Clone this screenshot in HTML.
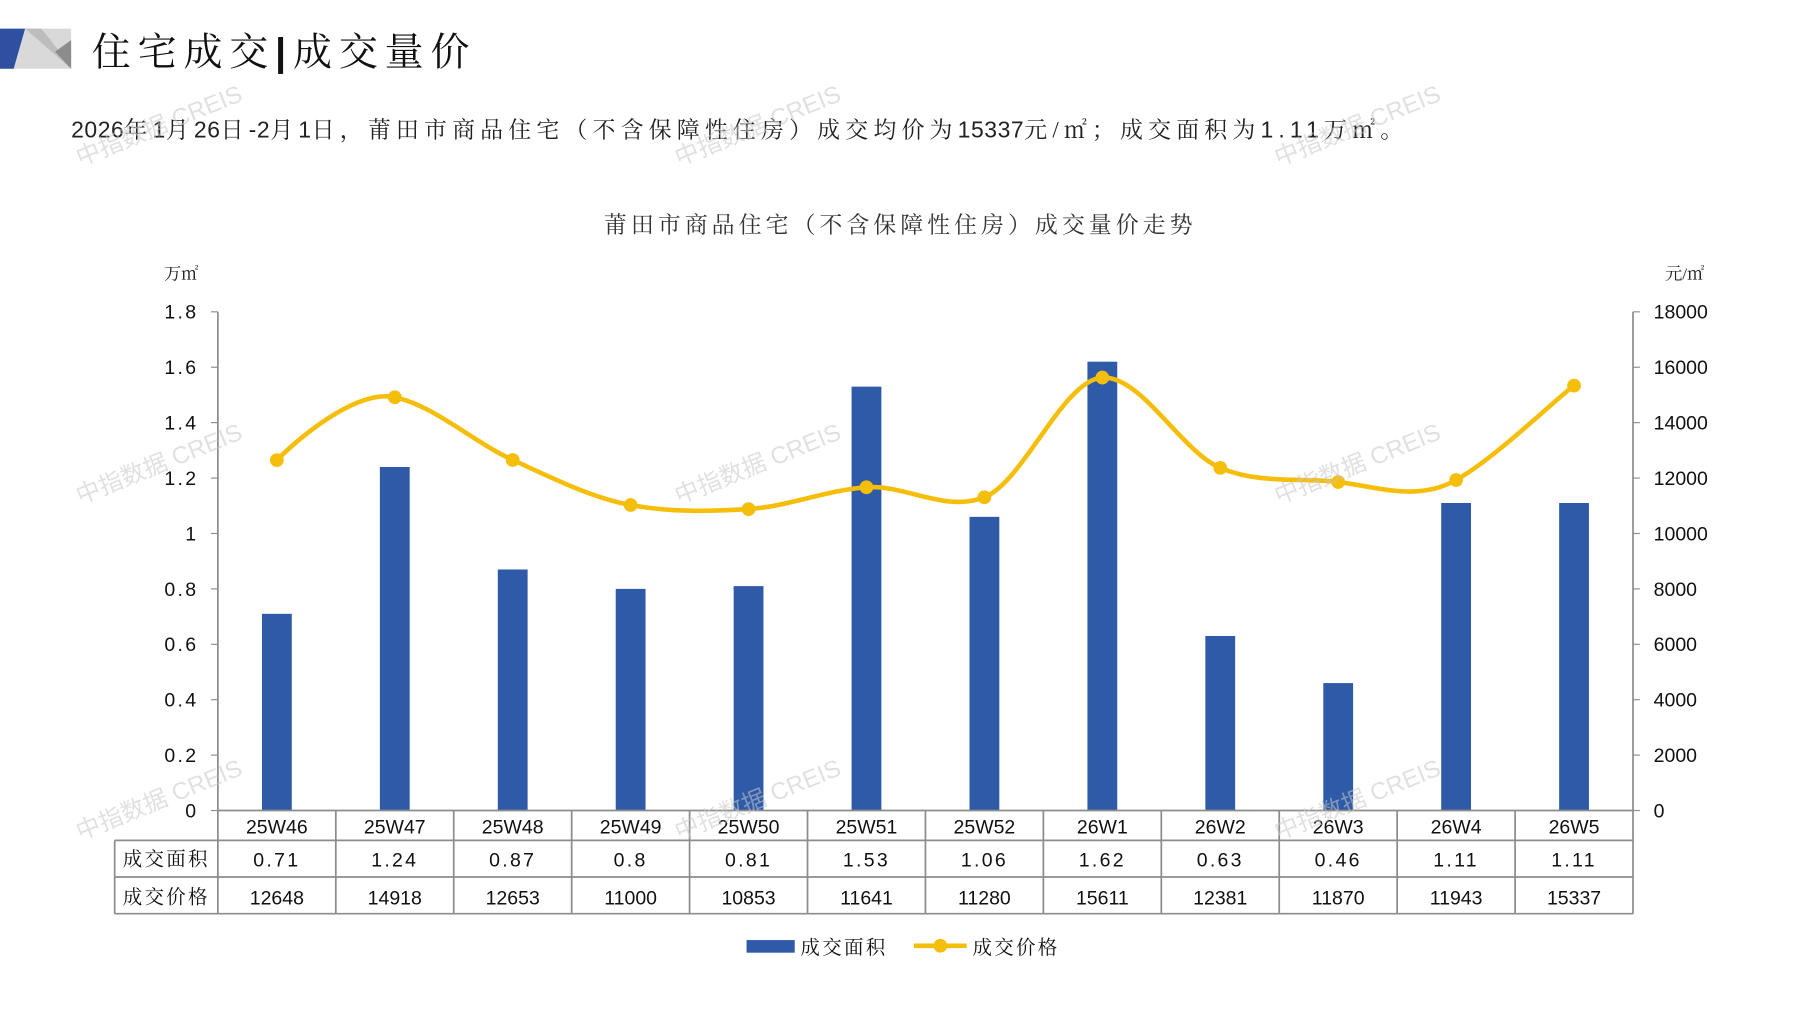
<!DOCTYPE html>
<html><head><meta charset="utf-8">
<style>
html,body{margin:0;padding:0;background:#fff;}
svg{display:block;}
text{font-family:"Liberation Sans","Noto Sans CJK SC",sans-serif;}
.s{font-family:"Liberation Serif","Noto Serif CJK SC",serif;}
.wm{font-family:"Liberation Sans","Noto Sans CJK SC",sans-serif;fill:#c8c8c8;opacity:.55;font-size:21px;}
</style></head><body>
<svg width="1797" height="1010" viewBox="0 0 1567 881" preserveAspectRatio="none" xmlns="http://www.w3.org/2000/svg">
<polygon points="0,25 22,25 12,60 0,60" fill="#2f4fa0"/>
<polygon points="22,25 62,25 62,60 12,60" fill="#d9d9d9"/>
<polygon points="22,25 62,60 62,35 52,45 36,25" fill="#bdbdbd"/>
<polygon points="48,45 62,35 62,60" fill="#8c8c8c"/>
<text x="80" y="57" class="s" font-size="34" fill="#111" letter-spacing="6">住宅成交<tspan font-family="Liberation Sans" font-weight="bold">|</tspan>成交量价</text>
<text x="62" y="120" class="s" font-size="20" fill="#222" letter-spacing="4.5"><tspan font-family="Liberation Sans" letter-spacing="0.5">2026</tspan>年<tspan font-family="Liberation Sans" letter-spacing="0.5">1</tspan>月<tspan font-family="Liberation Sans" letter-spacing="0.5">26</tspan>日<tspan font-family="Liberation Sans" letter-spacing="0.5">-2</tspan>月<tspan font-family="Liberation Sans" letter-spacing="0.5">1</tspan>日，莆田市商品住宅（不含保障性住房）成交均价为<tspan font-family="Liberation Sans" letter-spacing="0.5">15337</tspan>元/㎡；成交面积为<tspan font-family="Liberation Sans">1.11</tspan>万㎡。</text>
<text x="785" y="203" class="s" font-size="20" fill="#333" text-anchor="middle" letter-spacing="3.5">莆田市商品住宅（不含保障性住房）成交量价走势</text>
<text x="143" y="244" class="s" font-size="15" fill="#222">万㎡</text>
<text x="1452" y="244" class="s" font-size="15" fill="#222">元/㎡</text>
<g>
<line x1="190" y1="272" x2="190" y2="797" stroke="#8c8c8c" stroke-width="1.5"/><line x1="1424" y1="272" x2="1424" y2="797" stroke="#8c8c8c" stroke-width="1.5"/><line x1="184" y1="707" x2="190" y2="707" stroke="#8c8c8c"/><line x1="1424" y1="707" x2="1430" y2="707" stroke="#8c8c8c"/><text x="173" y="713" font-size="17" text-anchor="end" fill="#111" letter-spacing="2">0</text><text x="1442" y="713" font-size="17" fill="#111">0</text><line x1="184" y1="658.6666666666666" x2="190" y2="658.6666666666666" stroke="#8c8c8c"/><line x1="1424" y1="658.6666666666666" x2="1430" y2="658.6666666666666" stroke="#8c8c8c"/><text x="173" y="664.6666666666666" font-size="17" text-anchor="end" fill="#111" letter-spacing="2">0.2</text><text x="1442" y="664.6666666666666" font-size="17" fill="#111">2000</text><line x1="184" y1="610.3333333333334" x2="190" y2="610.3333333333334" stroke="#8c8c8c"/><line x1="1424" y1="610.3333333333334" x2="1430" y2="610.3333333333334" stroke="#8c8c8c"/><text x="173" y="616.3333333333334" font-size="17" text-anchor="end" fill="#111" letter-spacing="2">0.4</text><text x="1442" y="616.3333333333334" font-size="17" fill="#111">4000</text><line x1="184" y1="562" x2="190" y2="562" stroke="#8c8c8c"/><line x1="1424" y1="562" x2="1430" y2="562" stroke="#8c8c8c"/><text x="173" y="568" font-size="17" text-anchor="end" fill="#111" letter-spacing="2">0.6</text><text x="1442" y="568" font-size="17" fill="#111">6000</text><line x1="184" y1="513.6666666666666" x2="190" y2="513.6666666666666" stroke="#8c8c8c"/><line x1="1424" y1="513.6666666666666" x2="1430" y2="513.6666666666666" stroke="#8c8c8c"/><text x="173" y="519.6666666666666" font-size="17" text-anchor="end" fill="#111" letter-spacing="2">0.8</text><text x="1442" y="519.6666666666666" font-size="17" fill="#111">8000</text><line x1="184" y1="465.33333333333337" x2="190" y2="465.33333333333337" stroke="#8c8c8c"/><line x1="1424" y1="465.33333333333337" x2="1430" y2="465.33333333333337" stroke="#8c8c8c"/><text x="173" y="471.33333333333337" font-size="17" text-anchor="end" fill="#111" letter-spacing="2">1</text><text x="1442" y="471.33333333333337" font-size="17" fill="#111">10000</text><line x1="184" y1="417" x2="190" y2="417" stroke="#8c8c8c"/><line x1="1424" y1="417" x2="1430" y2="417" stroke="#8c8c8c"/><text x="173" y="423" font-size="17" text-anchor="end" fill="#111" letter-spacing="2">1.2</text><text x="1442" y="423" font-size="17" fill="#111">12000</text><line x1="184" y1="368.66666666666663" x2="190" y2="368.66666666666663" stroke="#8c8c8c"/><line x1="1424" y1="368.66666666666663" x2="1430" y2="368.66666666666663" stroke="#8c8c8c"/><text x="173" y="374.66666666666663" font-size="17" text-anchor="end" fill="#111" letter-spacing="2">1.4</text><text x="1442" y="374.66666666666663" font-size="17" fill="#111">14000</text><line x1="184" y1="320.33333333333337" x2="190" y2="320.33333333333337" stroke="#8c8c8c"/><line x1="1424" y1="320.33333333333337" x2="1430" y2="320.33333333333337" stroke="#8c8c8c"/><text x="173" y="326.33333333333337" font-size="17" text-anchor="end" fill="#111" letter-spacing="2">1.6</text><text x="1442" y="326.33333333333337" font-size="17" fill="#111">16000</text><line x1="184" y1="272" x2="190" y2="272" stroke="#8c8c8c"/><line x1="1424" y1="272" x2="1430" y2="272" stroke="#8c8c8c"/><text x="173" y="278" font-size="17" text-anchor="end" fill="#111" letter-spacing="2">1.8</text><text x="1442" y="278" font-size="17" fill="#111">18000</text>
</g>
<g fill="#2e5aa8">
<rect x="228.42" y="535.42" width="26" height="171.58"/>
<rect x="331.25" y="407.33" width="26" height="299.67"/>
<rect x="434.08" y="496.75" width="26" height="210.25"/>
<rect x="536.92" y="513.67" width="26" height="193.33"/>
<rect x="639.75" y="511.25" width="26" height="195.75"/>
<rect x="742.58" y="337.25" width="26" height="369.75"/>
<rect x="845.42" y="450.83" width="26" height="256.17"/>
<rect x="948.25" y="315.50" width="26" height="391.50"/>
<rect x="1051.08" y="554.75" width="26" height="152.25"/>
<rect x="1153.92" y="595.83" width="26" height="111.17"/>
<rect x="1256.75" y="438.75" width="26" height="268.25"/>
<rect x="1359.58" y="438.75" width="26" height="268.25"/>
</g>
<g font-size="17" text-anchor="middle" fill="#111">
<text x="241.42" y="727">25W46</text><text x="344.25" y="727">25W47</text><text x="447.08" y="727">25W48</text><text x="549.92" y="727">25W49</text><text x="652.75" y="727">25W50</text><text x="755.58" y="727">25W51</text><text x="858.42" y="727">25W52</text><text x="961.25" y="727">26W1</text><text x="1064.08" y="727">26W2</text><text x="1166.92" y="727">26W3</text><text x="1269.75" y="727">26W4</text><text x="1372.58" y="727">26W5</text>
<g letter-spacing="2"><text x="241.42" y="756">0.71</text><text x="344.25" y="756">1.24</text><text x="447.08" y="756">0.87</text><text x="549.92" y="756">0.8</text><text x="652.75" y="756">0.81</text><text x="755.58" y="756">1.53</text><text x="858.42" y="756">1.06</text><text x="961.25" y="756">1.62</text><text x="1064.08" y="756">0.63</text><text x="1166.92" y="756">0.46</text><text x="1269.75" y="756">1.11</text><text x="1372.58" y="756">1.11</text></g>
<text x="241.42" y="789">12648</text><text x="344.25" y="789">14918</text><text x="447.08" y="789">12653</text><text x="549.92" y="789">11000</text><text x="652.75" y="789">10853</text><text x="755.58" y="789">11641</text><text x="858.42" y="789">11280</text><text x="961.25" y="789">15611</text><text x="1064.08" y="789">12381</text><text x="1166.92" y="789">11870</text><text x="1269.75" y="789">11943</text><text x="1372.58" y="789">15337</text>
</g>
<g stroke="#8c8c8c" stroke-width="1.5">
<line x1="190" y1="707" x2="1424" y2="707"/>
<line x1="100" y1="733" x2="1424" y2="733"/><line x1="100" y1="765" x2="1424" y2="765"/><line x1="100" y1="797" x2="1424" y2="797"/>
<line x1="100" y1="733" x2="100" y2="797"/>
<line x1="292.83" y1="707" x2="292.83" y2="797"/><line x1="395.67" y1="707" x2="395.67" y2="797"/><line x1="498.5" y1="707" x2="498.5" y2="797"/><line x1="601.33" y1="707" x2="601.33" y2="797"/><line x1="704.17" y1="707" x2="704.17" y2="797"/><line x1="807" y1="707" x2="807" y2="797"/><line x1="909.83" y1="707" x2="909.83" y2="797"/><line x1="1012.67" y1="707" x2="1012.67" y2="797"/><line x1="1115.5" y1="707" x2="1115.5" y2="797"/><line x1="1218.33" y1="707" x2="1218.33" y2="797"/><line x1="1321.17" y1="707" x2="1321.17" y2="797"/>
</g>
<text x="145" y="755" class="s" font-size="17" text-anchor="middle" fill="#111" letter-spacing="2">成交面积</text>
<text x="145" y="788" class="s" font-size="17" text-anchor="middle" fill="#111" letter-spacing="2">成交价格</text>
<path d="M241.42,401.34 C258.56,383.91 310.11,339.24 344.25,346.48 C378.39,353.72 412.94,385.63 447.08,401.21 C481.22,416.78 515.78,434.18 549.92,440.51 C584.06,446.83 618.61,446.17 652.75,444.06 C686.89,441.96 721.44,427.29 755.58,425.02 C789.72,422.76 824.28,447.20 858.42,433.74 C892.56,420.28 927.11,331.19 961.25,329.34 C995.39,327.48 1029.94,393.78 1064.08,408.09 C1098.22,422.40 1132.78,416.47 1166.92,420.48 C1201.06,424.49 1235.61,437.89 1269.75,418.72 C1303.89,399.55 1355.44,349.13 1372.58,336.34" fill="none" stroke="#f5be0b" stroke-width="4"/>
<g fill="#f5be0b">
<circle cx="241.42" cy="401.34" r="6"/><circle cx="344.25" cy="346.48" r="6"/><circle cx="447.08" cy="401.21" r="6"/><circle cx="549.92" cy="440.51" r="6"/><circle cx="652.75" cy="444.06" r="6"/><circle cx="755.58" cy="425.02" r="6"/><circle cx="858.42" cy="433.74" r="6"/><circle cx="961.25" cy="329.34" r="6"/><circle cx="1064.08" cy="408.09" r="6"/><circle cx="1166.92" cy="420.48" r="6"/><circle cx="1269.75" cy="418.72" r="6"/><circle cx="1372.58" cy="336.34" r="6"/>
</g>
<rect x="651" y="820" width="42" height="11" fill="#2e5aa8"/>
<text x="698" y="832" class="s" font-size="17" fill="#111" letter-spacing="2">成交面积</text>
<line x1="797" y1="825" x2="843" y2="825" stroke="#f5be0b" stroke-width="4"/><circle cx="820" cy="825" r="6" fill="#f5be0b"/>
<text x="848" y="832" class="s" font-size="17" fill="#111" letter-spacing="2">成交价格</text>
<text class="wm" x="70" y="145" transform="rotate(-22 70 145)">中指数据 CREIS</text>
<text class="wm" x="592" y="145" transform="rotate(-22 592 145)">中指数据 CREIS</text>
<text class="wm" x="1115" y="145" transform="rotate(-22 1115 145)">中指数据 CREIS</text>
<text class="wm" x="70" y="440" transform="rotate(-22 70 440)">中指数据 CREIS</text>
<text class="wm" x="592" y="440" transform="rotate(-22 592 440)">中指数据 CREIS</text>
<text class="wm" x="1115" y="440" transform="rotate(-22 1115 440)">中指数据 CREIS</text>
<text class="wm" x="70" y="733" transform="rotate(-22 70 733)">中指数据 CREIS</text>
<text class="wm" x="592" y="733" transform="rotate(-22 592 733)">中指数据 CREIS</text>
<text class="wm" x="1115" y="733" transform="rotate(-22 1115 733)">中指数据 CREIS</text>
</svg>
</body></html>
